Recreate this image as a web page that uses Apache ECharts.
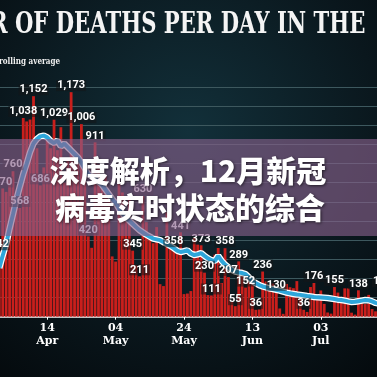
<!DOCTYPE html>
<html>
<head>
<meta charset="utf-8">
<script src="https://cdn.jsdelivr.net/npm/echarts@6/dist/echarts.min.js"></script>
<style>
  html, body { margin: 0; padding: 0; background: #070e12; }
  #main { width: 377px; height: 377px; }
</style>
</head>
<body>
<div id="main"></div>
<script>
// daily deaths, 31 Mar .. 22 Jul 2020
var startDay = Date.UTC(2020, 2, 31);
var months = ['Jan', 'Feb', 'Mar', 'Apr', 'May', 'Jun', 'Jul', 'Aug'];

var deaths = [
    342, 670, 652, 715, 760, 640, 568, 1038, 1020, 1030,
    1152, 880, 686, 780, 955, 880, 1029, 870, 990, 700,
    820, 1173, 860, 830, 1006, 810, 420, 360, 911, 795,
    674, 739, 621, 315, 288, 693, 649, 539, 626, 345,
    268, 211, 630, 494, 428, 384, 468, 170, 160, 545,
    363, 358, 351, 441, 118, 121, 134, 412, 377, 373,
    230, 113, 111, 324, 359, 176, 358, 207, 77, 55,
    289, 245, 152, 202, 181, 36, 38, 236, 184, 135,
    173, 130, 43, 15, 171, 154, 149, 186, 100, 36,
    25, 155, 176, 89, 137, 67, 22, 16, 155, 126,
    85, 148, 148, 21, 11, 138, 85, 66, 114, 40,
    28, 11, 150, 79
];

var rollingAvg = [
    255, 320, 380, 460, 535, 612, 680, 745, 800, 860,
    905, 928, 942, 946, 937, 918, 908, 920, 890, 904,
    886, 868, 850, 832, 805, 775, 745, 733, 723, 705,
    690, 665, 640, 615, 595, 565, 540, 520, 502, 485,
    468, 452, 440, 428, 418, 408, 404, 400, 390, 380,
    370, 358, 345, 338, 342, 347, 330, 322, 326, 332,
    318, 305, 295, 290, 318, 292, 272, 258, 245, 236,
    231, 228, 222, 205, 185, 175, 165, 158, 153, 148,
    144, 140, 136, 131, 126, 122, 119, 116, 114, 111,
    108, 106, 103, 101, 100, 99, 98, 95, 92, 89,
    87, 84, 80, 77, 78, 81, 84, 87, 86, 80,
    72, 68, 68, 70
];

// days whose value is printed above the bar
var labelledDays = [0, 1, 4, 6, 7, 10, 12, 16, 21, 24, 26, 28, 39, 41, 42, 51, 53,
    59, 60, 62, 66, 67, 69, 70, 72, 75, 77, 81, 89, 92, 98, 105, 112];

var days = [];
for (var i = 0; i < deaths.length; i++) {
    days.push(new Date(startDay + i * 86400000));
}

var isTickDay = function (index) {
    return index >= 14 && (index - 14) % 20 === 0;
};

var labelData = deaths.map(function (v, i) {
    if (labelledDays.indexOf(i) >= 0) {
        return {value: v, label: {show: true}};
    }
    return {value: v, label: {show: false}};
});

var chart = echarts.init(document.getElementById('main'));

var option = {
    animation: false,
    backgroundColor: {
        type: 'radial', x: 0.5, y: 0.35, r: 0.85,
        colorStops: [
            {offset: 0, color: '#12303a'},
            {offset: 0.6, color: '#0a171d'},
            {offset: 1, color: '#04090c'}
        ]
    },
    grid: {
        left: -2.4, width: 389.88, top: 87, height: 229.7,
        containLabel: false, outerBoundsMode: 'none'
    },
    xAxis: {
        type: 'category',
        data: days,
        axisLine: {lineStyle: {color: '#ffffff', width: 1.5}},
        axisTick: {show: true, interval: function (i) { return isTickDay(i); }, length: 3, alignWithLabel: true,
            lineStyle: {color: '#ffffff'}},
        axisLabel: {
            interval: function (i) { return isTickDay(i); },
            formatter: function (v) {
                var d = new Date(v);
                var dd = d.getUTCDate();
                return (dd < 10 ? '0' + dd : dd) + '\n' + months[d.getUTCMonth()];
            },
            color: '#ffffff',
            fontFamily: 'DejaVu Serif',
            fontWeight: 'bold',
            fontSize: 11,
            lineHeight: 13,
            margin: 5
        }
    },
    yAxis: {
        type: 'value',
        min: 0,
        max: 1200,
        interval: 100,
        axisLabel: {show: false},
        axisLine: {show: false},
        axisTick: {show: false},
        splitLine: {lineStyle: {color: '#3d585e', width: 1}}
    },
    series: [
        {
            name: 'deaths',
            type: 'bar',
            data: deaths,
            barCategoryGap: '18%',
            itemStyle: {color: '#c91f1c'},
            z: 1
        },
        {
            name: 'avg outline',
            type: 'line',
            data: rollingAvg,
            symbol: 'none',
            lineStyle: {color: '#ffffff', width: 6.5},
            z: 3
        },
        {
            name: 'avg',
            type: 'line',
            data: rollingAvg,
            symbol: 'none',
            lineStyle: {color: '#2ea6da', width: 4},
            z: 4
        },
        {
            name: 'labels',
            type: 'bar',
            data: labelData,
            barGap: '-100%',
            barCategoryGap: '18%',
            itemStyle: {color: 'rgba(0,0,0,0)'},
            z: 6,
            label: {
                position: 'top',
                distance: 1,
                color: '#ffffff',
                fontFamily: "'Liberation Sans Narrow', Roboto, sans-serif",
                fontWeight: 'bold',
                fontSize: 11,
                backgroundColor: 'rgba(20,22,24,0.55)',
                padding: [0, 1],
                formatter: function (p) { return p.value.toLocaleString('en-US'); }
            }
        }
    ],
    graphic: [
        {
            type: 'text', x: -10, y: 25, scaleX: 0.705, z: 100,
            style: {
                text: 'R OF DEATHS PER DAY IN THE',
                fill: '#f4f4f4',
                font: 'bold 30px "DejaVu Serif"',
                textAlign: 'left', align: 'left',
                textVerticalAlign: 'middle', verticalAlign: 'middle'
            }
        },
        {
            type: 'text', x: -1, y: 61, scaleX: 0.72, z: 100,
            style: {
                text: 'rolling average',
                fill: '#f0f0f0',
                font: 'bold 10px "DejaVu Serif"',
                textAlign: 'left', align: 'left',
                textVerticalAlign: 'middle', verticalAlign: 'middle'
            }
        },
        {
            type: 'rect', z: 100,
            shape: {x: 0, y: 139, width: 377, height: 97},
            style: {fill: 'rgba(136,96,140,0.63)'}
        },
        {
            type: 'text', x: 188, y: 171, z: 101,
            style: {
                text: '深度解析，12月新冠',
                fill: '#ffffff',
                font: '900 30px "Noto Sans CJK SC"',
                textAlign: 'center', align: 'center',
                textVerticalAlign: 'middle', verticalAlign: 'middle',
                textShadowColor: 'rgba(0,0,0,0.6)', textShadowBlur: 3,
                textShadowOffsetX: 1, textShadowOffsetY: 1
            }
        },
        {
            type: 'text', x: 190, y: 208, z: 101,
            style: {
                text: '病毒实时状态的综合',
                fill: '#ffffff',
                font: '900 30px "Noto Sans CJK SC"',
                textAlign: 'center', align: 'center',
                textVerticalAlign: 'middle', verticalAlign: 'middle',
                textShadowColor: 'rgba(0,0,0,0.6)', textShadowBlur: 3,
                textShadowOffsetX: 1, textShadowOffsetY: 1
            }
        }
    ]
};

chart.setOption(option);
</script>
</body>
</html>
